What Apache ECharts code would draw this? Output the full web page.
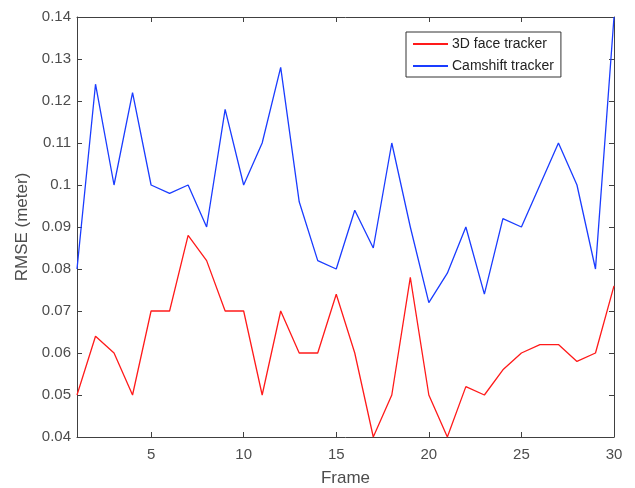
<!DOCTYPE html>
<html>
<head>
<meta charset="utf-8">
<title>RMSE per frame</title>
<script src="https://cdn.jsdelivr.net/npm/echarts@6/dist/echarts.min.js"></script>
<style>
    html, body { margin: 0; padding: 0; background: #fff; }
    #chart { width: 635px; height: 488px; }
</style>
</head>
<body>
<div id="chart"></div>
<script>
// frame numbers
var frames = [];
for (var i = 1; i <= 30; i++) frames.push(i);

// RMSE (meter)
var faceTracker = [0.050, 0.064, 0.060, 0.050, 0.070, 0.070, 0.088, 0.082, 0.070, 0.070,
                   0.050, 0.070, 0.060, 0.060, 0.074, 0.060, 0.040, 0.050, 0.078, 0.050,
                   0.040, 0.052, 0.050, 0.056, 0.060, 0.062, 0.062, 0.058, 0.060, 0.076];
var camshiftTracker = [0.080, 0.124, 0.100, 0.122, 0.100, 0.098, 0.100, 0.090, 0.118, 0.100,
                       0.110, 0.128, 0.096, 0.082, 0.080, 0.094, 0.085, 0.110, 0.090, 0.072,
                       0.079, 0.090, 0.074, 0.092, 0.090, 0.100, 0.110, 0.100, 0.080, 0.140];

var xTicks = [5, 10, 15, 20, 25, 30];

function pairs(ys) {
    return frames.map(function(x, k) { return [x, ys[k]]; });
}

var axisGrey = '#404040';
var labelGrey = '#4d4d4d';
var font = 'Liberation Sans, Arial, sans-serif';

var myChart = echarts.init(document.getElementById('chart'));

myChart.setOption({
    animation: false,
    textStyle: { fontFamily: font },
    grid: { left: 77, right: 21, top: 17, bottom: 51, outerBoundsMode: 'none' },
    legend: {
        orient: 'vertical',
        left: 406,
        top: 32,
        itemWidth: 35,
        itemHeight: 14,
        itemGap: 8,
        padding: [5, 7, 4, 6],
        borderColor: '#333',
        borderWidth: 1,
        backgroundColor: '#fff',
        itemStyle: { opacity: 0 },
        textStyle: { fontSize: 14, color: '#222', fontFamily: font, padding: [0, 0, 0, -1] },
        data: ['3D face tracker', 'Camshift tracker']
    },
    xAxis: [{
        type: 'value',
        min: 1,
        max: 30,
        name: 'Frame',
        nameLocation: 'middle',
        nameGap: 33,
        nameTextStyle: { fontSize: 17, color: labelGrey },
        axisLine: { lineStyle: { color: axisGrey } },
        axisTick: { inside: true, length: 5, customValues: xTicks, lineStyle: { color: axisGrey } },
        axisLabel: { customValues: xTicks, fontSize: 15, color: labelGrey, margin: 10 },
        splitLine: { show: false }
    }, {
        type: 'value',
        position: 'top',
        min: 1,
        max: 30,
        axisLine: { lineStyle: { color: axisGrey } },
        axisTick: { inside: true, length: 5, customValues: xTicks, lineStyle: { color: axisGrey } },
        axisLabel: { show: false },
        splitLine: { show: false }
    }],
    yAxis: [{
        type: 'value',
        min: 0.04,
        max: 0.14,
        interval: 0.01,
        name: 'RMSE (meter)',
        nameLocation: 'middle',
        nameGap: 46,
        nameTextStyle: { fontSize: 17, color: labelGrey },
        axisLine: { show: true, lineStyle: { color: axisGrey } },
        axisTick: { show: true, inside: true, length: 5, lineStyle: { color: axisGrey } },
        axisLabel: {
            fontSize: 15,
            color: labelGrey,
            margin: 6,
            formatter: function(v) { return String(parseFloat(v.toFixed(2))); }
        },
        splitLine: { show: false }
    }, {
        type: 'value',
        position: 'right',
        min: 0.04,
        max: 0.14,
        interval: 0.01,
        axisLine: { show: true, lineStyle: { color: axisGrey } },
        axisTick: { show: true, inside: true, length: 5, lineStyle: { color: axisGrey } },
        axisLabel: { show: false },
        splitLine: { show: false }
    }],
    series: [{
        name: '3D face tracker',
        type: 'line',
        data: pairs(faceTracker),
        symbol: 'none',
        color: '#ff1a1a',
        lineStyle: { width: 1.3 }
    }, {
        name: 'Camshift tracker',
        type: 'line',
        data: pairs(camshiftTracker),
        symbol: 'none',
        color: '#1a3cff',
        lineStyle: { width: 1.3 }
    }]
});
</script>
</body>
</html>
